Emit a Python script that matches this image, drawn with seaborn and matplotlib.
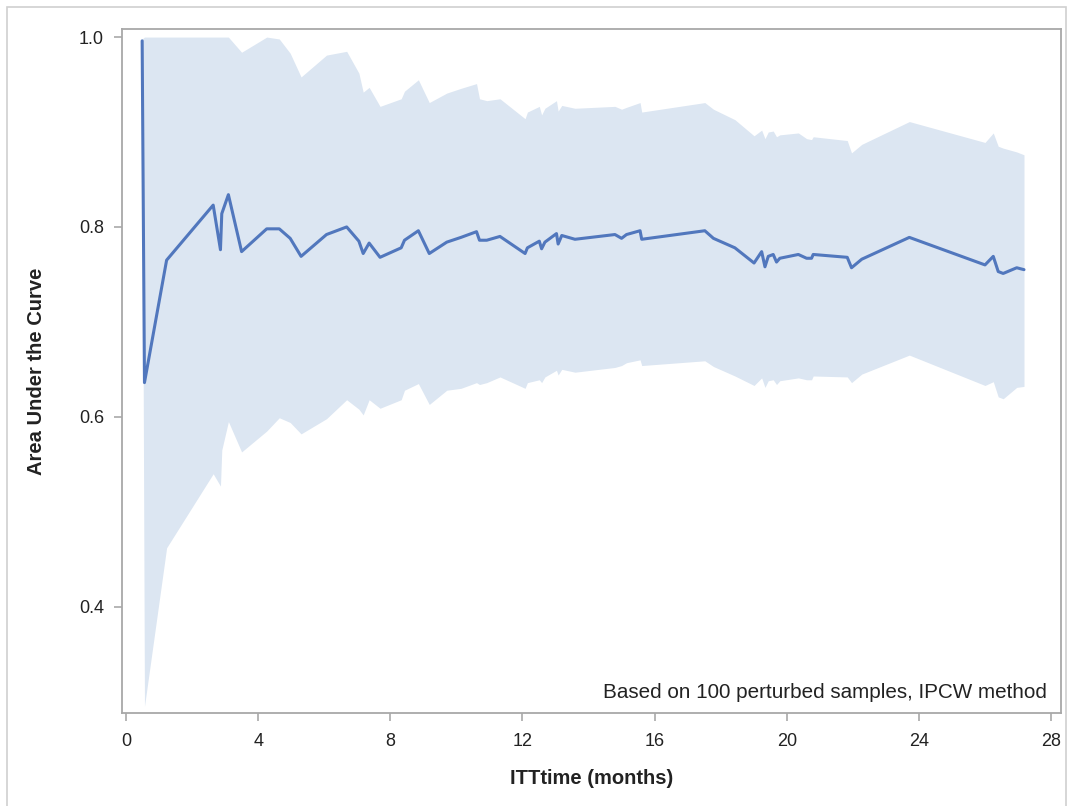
import seaborn as sns
import pandas as pd
import matplotlib.pyplot as plt
from matplotlib.patches import Rectangle

# values
itt_time = [0.49, 0.56, 1.23, 2.64, 2.86, 2.90, 3.10, 3.50, 4.26, 4.64,
            4.97, 5.30, 6.07, 6.68, 7.05, 7.18, 7.36, 7.69, 8.33, 8.43,
            8.85, 9.18, 9.71, 10.14, 10.61, 10.70, 10.92, 11.32, 12.08, 12.15,
            12.51, 12.58, 12.68, 13.03, 13.08, 13.19, 13.59, 14.80, 15.00, 15.15,
            15.56, 15.61, 17.52, 17.78, 18.43, 19.01, 19.24, 19.34, 19.44, 19.59,
            19.69, 19.79, 20.35, 20.60, 20.75, 20.80, 21.83, 21.96, 22.27, 23.71,
            26.00, 26.25, 26.40, 26.55, 26.96, 27.18]
auc = [0.996, 0.636, 0.765, 0.823, 0.776, 0.814, 0.834, 0.774, 0.798, 0.798,
       0.788, 0.769, 0.792, 0.800, 0.785, 0.772, 0.783, 0.768, 0.778, 0.786,
       0.796, 0.772, 0.784, 0.789, 0.795, 0.786, 0.786, 0.790, 0.772, 0.778,
       0.785, 0.777, 0.784, 0.793, 0.782, 0.791, 0.787, 0.792, 0.788, 0.792,
       0.796, 0.787, 0.796, 0.788, 0.778, 0.762, 0.774, 0.758, 0.769, 0.771,
       0.763, 0.767, 0.771, 0.767, 0.767, 0.771, 0.768, 0.757, 0.766, 0.789,
       0.760, 0.769, 0.753, 0.751, 0.757, 0.755]
auc_lower = [0.920, 0.295, 0.462, 0.540, 0.527, 0.565, 0.595, 0.563, 0.585, 0.599,
             0.594, 0.582, 0.598, 0.618, 0.608, 0.602, 0.618, 0.609, 0.618, 0.628,
             0.635, 0.613, 0.628, 0.630, 0.636, 0.634, 0.636, 0.642, 0.630, 0.636,
             0.639, 0.636, 0.642, 0.649, 0.644, 0.650, 0.647, 0.652, 0.654, 0.657,
             0.660, 0.654, 0.659, 0.653, 0.643, 0.633, 0.641, 0.631, 0.638, 0.639,
             0.634, 0.638, 0.641, 0.639, 0.639, 0.643, 0.642, 0.636, 0.645, 0.665,
             0.633, 0.637, 0.621, 0.619, 0.631, 0.632]
auc_upper = [0.998, 1.000, 1.000, 1.000, 1.000, 1.000, 1.000, 0.984, 1.000, 0.998,
             0.983, 0.958, 0.981, 0.985, 0.962, 0.942, 0.947, 0.927, 0.935, 0.943,
             0.955, 0.931, 0.941, 0.946, 0.951, 0.935, 0.933, 0.935, 0.914, 0.921,
             0.927, 0.918, 0.925, 0.933, 0.922, 0.928, 0.925, 0.927, 0.924, 0.926,
             0.931, 0.921, 0.931, 0.924, 0.913, 0.896, 0.902, 0.893, 0.900, 0.901,
             0.895, 0.897, 0.899, 0.893, 0.892, 0.895, 0.891, 0.878, 0.887, 0.911,
             0.889, 0.899, 0.885, 0.883, 0.879, 0.876]
x_ticks = [0, 4, 8, 12, 16, 20, 24, 28]
y_ticks = [0.4, 0.6, 0.8, 1.0]

results = pd.DataFrame({"ITTtime": itt_time, "AUC": auc,
                        "Lower": auc_lower, "Upper": auc_upper})

sns.set_style("white")
plt.rcParams["font.family"] = ["Liberation Sans", "DejaVu Sans"]

fig = plt.figure(figsize=(10.7, 8.06), dpi=100)
ax = fig.add_axes([122 / 1070, 1 - 713 / 806, (1061 - 122) / 1070, (713 - 29) / 806])

ax.fill_between(results["ITTtime"], results["Lower"], results["Upper"],
                color="#dce6f2", linewidth=0)
sns.lineplot(data=results, x="ITTtime", y="AUC", ax=ax, color="#5177bd",
             linewidth=2.2, estimator=None, sort=False)

ax.set_xlim(-0.12, 28.3)
ax.set_ylim(0.288, 1.0085)
ax.set_xticks(x_ticks)
ax.set_xticklabels([str(t) for t in x_ticks])
ax.set_yticks(y_ticks)
ax.set_yticklabels([f"{t:.1f}" for t in y_ticks])

for spine in ax.spines.values():
    spine.set_color("#a8a8a8")
    spine.set_linewidth(1.3)
ax.tick_params(axis="both", bottom=True, left=True, direction="out", length=6,
               width=1.3, color="#b0b0b0", labelsize=13, labelcolor="#222222", pad=7)
ax.tick_params(axis="x", pad=8.5)

ax.set_xlabel("ITTtime (months)", fontsize=14.5, fontweight="bold", color="#222222")
ax.set_ylabel("Area Under the Curve", fontsize=14.5, fontweight="bold", color="#222222")
ax.xaxis.set_label_coords(0.5, (713 - 769) / (713 - 29))
ax.yaxis.set_label_coords((46 - 122) / (1061 - 122), 0.5)

ax.text(0.985, (713 - 692) / (713 - 29), "Based on 100 perturbed samples, IPCW method",
        transform=ax.transAxes, ha="right", va="center", fontsize=14.9, color="#222222")

# light outer frame round the whole graph
fig.patches.append(Rectangle((7 / 1070, -0.02), (1066 - 7) / 1070, 1 - 7 / 806 + 0.02,
                             transform=fig.transFigure, fill=False,
                             edgecolor="#d0d0d0", linewidth=1.2))

fig.savefig("out.png", dpi=100)
